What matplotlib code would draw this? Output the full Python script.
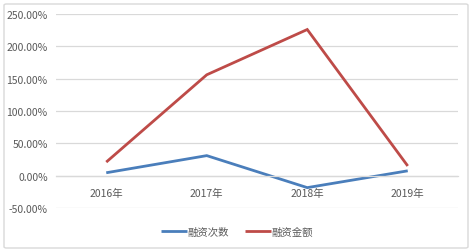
import matplotlib
matplotlib.use("Agg")
import matplotlib.pyplot as plt
from matplotlib.patches import FancyBboxPatch
from matplotlib.ticker import FuncFormatter

plt.rcParams['font.family'] = ['Noto Sans CJK SC', 'DejaVu Sans']

categories = ['2016年', '2017年', '2018年', '2019年']
count_growth = [4.5, 31.0, -18.5, 7.5]
amount_growth = [21.0, 156.0, 226.0, 15.0]
series_names = ['融资次数', '融资金额']

W, H = 474, 253
fig = plt.figure(figsize=(W / 100, H / 100), dpi=100)
fig.patch.set_facecolor('white')

border = FancyBboxPatch((4 / W, 4 / H), (W - 10) / W, (H - 9) / H,
                        boxstyle="round,pad=0,rounding_size=0.005",
                        transform=fig.transFigure, fill=False,
                        edgecolor='#d9d9d9', linewidth=1.0)
fig.patches.append(border)

ax = fig.add_axes([56 / W, 1 - 209 / H, (458 - 56) / W, (209 - 15) / H])
x = list(range(len(categories)))
ax.plot(x, count_growth, color='#4a7ebb', linewidth=2.0, label=series_names[0],
        solid_capstyle='butt', solid_joinstyle='miter')
ax.plot(x, amount_growth, color='#be4b48', linewidth=2.0, label=series_names[1],
        solid_capstyle='butt', solid_joinstyle='miter')

ax.set_xlim(-0.5, len(categories) - 0.5)
ax.set_ylim(-50, 250)
ax.set_yticks([-50, 0, 50, 100, 150, 200, 250])
ax.yaxis.set_major_formatter(FuncFormatter(lambda v, p: f'{v:.2f}%'))
ax.grid(axis='y', color='#d9d9d9', linewidth=0.9)
ax.set_axisbelow(True)
for s in ['top', 'right', 'left']:
    ax.spines[s].set_visible(False)
ax.spines['bottom'].set_position(('data', 0))
ax.spines['bottom'].set_color('#d9d9d9')
ax.spines['bottom'].set_linewidth(0.9)
ax.set_xticks(x)
ax.set_xticklabels(categories)
ax.tick_params(axis='both', length=0, labelsize=7.5, labelcolor='#595959')
ax.tick_params(axis='y', pad=6)
ax.tick_params(axis='x', pad=9)

leg = fig.legend(loc='center', bbox_to_anchor=(237 / W, 1 - 233 / H), ncol=2,
                 frameon=False, fontsize=7.5, handlelength=2.5, handletextpad=0.1,
                 columnspacing=1.5)
for t in leg.get_texts():
    t.set_color('#595959')

fig.savefig('out.png', dpi=100)
